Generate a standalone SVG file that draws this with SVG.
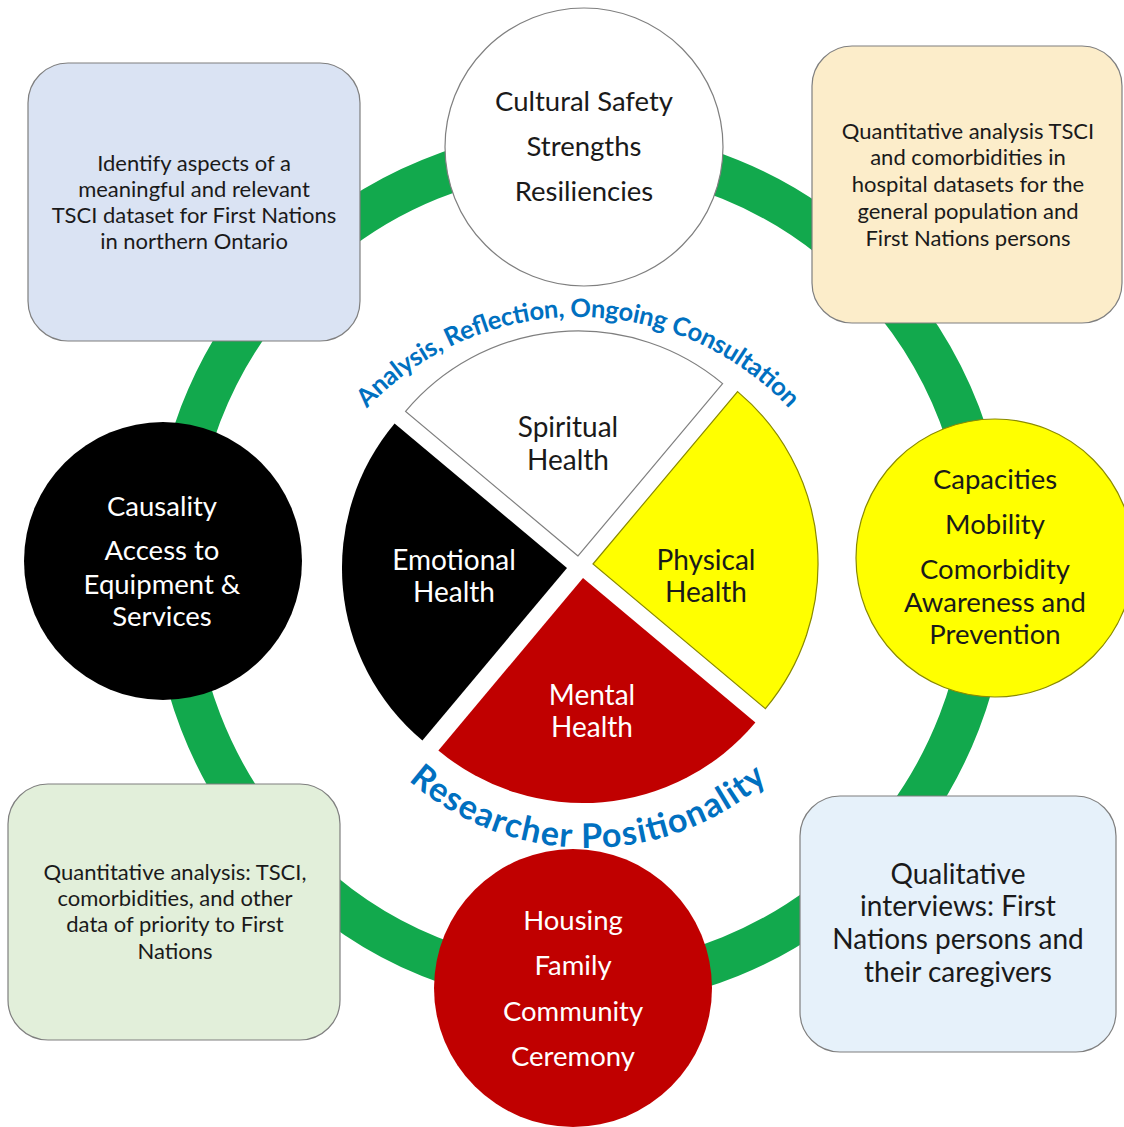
<svg xmlns="http://www.w3.org/2000/svg" width="1124" height="1127" viewBox="0 0 1124 1127">
  <style>
    text { font-family: Lato, "Open Sans", "Liberation Sans", sans-serif; text-anchor: middle; }
    .box { stroke: #7f7f7f; stroke-width: 1.2; }
    .btxt { font-size: 22px; fill: #1a1a1a; }
    .ctxt { font-size: 27.5px; }
    .wtxt { font-size: 28px; }
    .dark { fill: #1a1a1a; }
    .light { fill: #ffffff; }
    .arc { font-weight: bold; fill: #0070c0; }
  </style>
  <defs>
    <path id="topArc" d="M 289,606 A 289 289 0 0 1 867,606"/>
    <path id="bottomArc" d="M 316,576 A 272 272 0 0 0 860,576"/>
  </defs>
  <rect width="1124" height="1127" fill="#ffffff"/>

  <!-- green ring joining all stages -->
  <g id="connectors">
    <ellipse cx="580" cy="568" rx="408" ry="418" fill="none" stroke="#12a94d" stroke-width="42"/>
  </g>

  <!-- stage boxes -->
  <g id="box-identify">
    <rect class="box" x="28" y="63" width="332" height="278" rx="40" fill="#dae3f3"/>
    <text class="btxt" x="194" y="171">Identify aspects of a</text>
    <text class="btxt" x="194" y="197">meaningful and relevant</text>
    <text class="btxt" x="194" y="223">TSCI dataset for First Nations</text>
    <text class="btxt" x="194" y="249">in northern Ontario</text>
  </g>
  <g id="box-hospital">
    <rect class="box" x="812" y="46" width="310" height="277" rx="40" fill="#fcedca"/>
    <text class="btxt" x="968" y="139">Quantitative analysis TSCI</text>
    <text class="btxt" x="968" y="165">and comorbidities in</text>
    <text class="btxt" x="968" y="192">hospital datasets for the</text>
    <text class="btxt" x="968" y="219">general population and</text>
    <text class="btxt" x="968" y="246">First Nations persons</text>
  </g>
  <g id="box-priority">
    <rect class="box" x="8" y="784" width="332" height="256" rx="40" fill="#e2efda"/>
    <text class="btxt" x="175" y="880">Quantitative analysis: TSCI,</text>
    <text class="btxt" x="175" y="906">comorbidities, and other</text>
    <text class="btxt" x="175" y="932">data of priority to First</text>
    <text class="btxt" x="175" y="959">Nations</text>
  </g>
  <g id="box-interviews">
    <rect class="box" x="800" y="796" width="316" height="256" rx="40" fill="#e6f1fa"/>
    <text class="btxt" style="font-size:28px" x="958" y="884">Qualitative</text>
    <text class="btxt" style="font-size:28px" x="958" y="916">interviews: First</text>
    <text class="btxt" style="font-size:28px" x="958" y="949">Nations persons and</text>
    <text class="btxt" style="font-size:28px" x="958" y="982">their caregivers</text>
  </g>

  <!-- theme circles -->
  <g id="circle-culture">
    <circle cx="584" cy="147" r="139" fill="#ffffff" stroke="#7f7f7f" stroke-width="1.2"/>
    <text class="ctxt dark" x="584" y="111">Cultural Safety</text>
    <text class="ctxt dark" x="584" y="156">Strengths</text>
    <text class="ctxt dark" x="584" y="201">Resiliencies</text>
  </g>
  <g id="circle-capacities">
    <circle cx="995" cy="558" r="139" fill="#ffff00" stroke="#8a8a00" stroke-width="1.2"/>
    <text class="ctxt dark" x="995" y="489">Capacities</text>
    <text class="ctxt dark" x="995" y="534">Mobility</text>
    <text class="ctxt dark" x="995" y="579">Comorbidity</text>
    <text class="ctxt dark" x="995" y="612">Awareness and</text>
    <text class="ctxt dark" x="995" y="644">Prevention</text>
  </g>
  <g id="circle-causality">
    <circle cx="163" cy="561" r="139" fill="#000000"/>
    <text class="ctxt light" x="162" y="516">Causality</text>
    <text class="ctxt light" x="162" y="560">Access to</text>
    <text class="ctxt light" x="162" y="594">Equipment &amp;</text>
    <text class="ctxt light" x="162" y="626">Services</text>
  </g>
  <g id="circle-housing">
    <circle cx="573" cy="988" r="139" fill="#c00000"/>
    <text class="ctxt light" x="573" y="930">Housing</text>
    <text class="ctxt light" x="573" y="975">Family</text>
    <text class="ctxt light" x="573" y="1021">Community</text>
    <text class="ctxt light" x="573" y="1066">Ceremony</text>
  </g>

  <!-- medicine wheel -->
  <g id="wheel-spiritual">
    <path d="M 578,556 L 405.6,411.4 A 225 225 0 0 1 722.6,383.6 Z" fill="#ffffff" stroke="#7f7f7f" stroke-width="1.2"/>
    <text class="wtxt dark" x="568" y="437">Spiritual</text>
    <text class="wtxt dark" x="568" y="470">Health</text>
  </g>
  <g id="wheel-physical">
    <path d="M 593,564 L 737.6,391.6 A 225 225 0 0 1 765.4,708.6 Z" fill="#ffff00" stroke="#8a8a00" stroke-width="1.2"/>
    <text class="wtxt dark" x="706" y="570">Physical</text>
    <text class="wtxt dark" x="706" y="602">Health</text>
  </g>
  <g id="wheel-mental">
    <path d="M 583,578 L 755.4,722.6 A 225 225 0 0 1 438.4,750.4 Z" fill="#c00000"/>
    <text class="wtxt light" x="592" y="705">Mental</text>
    <text class="wtxt light" x="592" y="737">Health</text>
  </g>
  <g id="wheel-emotional">
    <path d="M 567,568 L 422.4,740.4 A 225 225 0 0 1 394.6,423.4 Z" fill="#000000"/>
    <text class="wtxt light" x="454" y="570">Emotional</text>
    <text class="wtxt light" x="454" y="602">Health</text>
  </g>

  <!-- curved captions -->
  <g id="caption-top">
    <text class="arc" style="font-size:25.5px"><textPath href="#topArc" startOffset="50%" textLength="473" lengthAdjust="spacing">Analysis, Reflection, Ongoing Consultation</textPath></text>
  </g>
  <g id="caption-bottom">
    <text class="arc" style="font-size:34px"><textPath href="#bottomArc" startOffset="50%" textLength="392" lengthAdjust="spacing">Researcher Positionality</textPath></text>
  </g>
</svg>
